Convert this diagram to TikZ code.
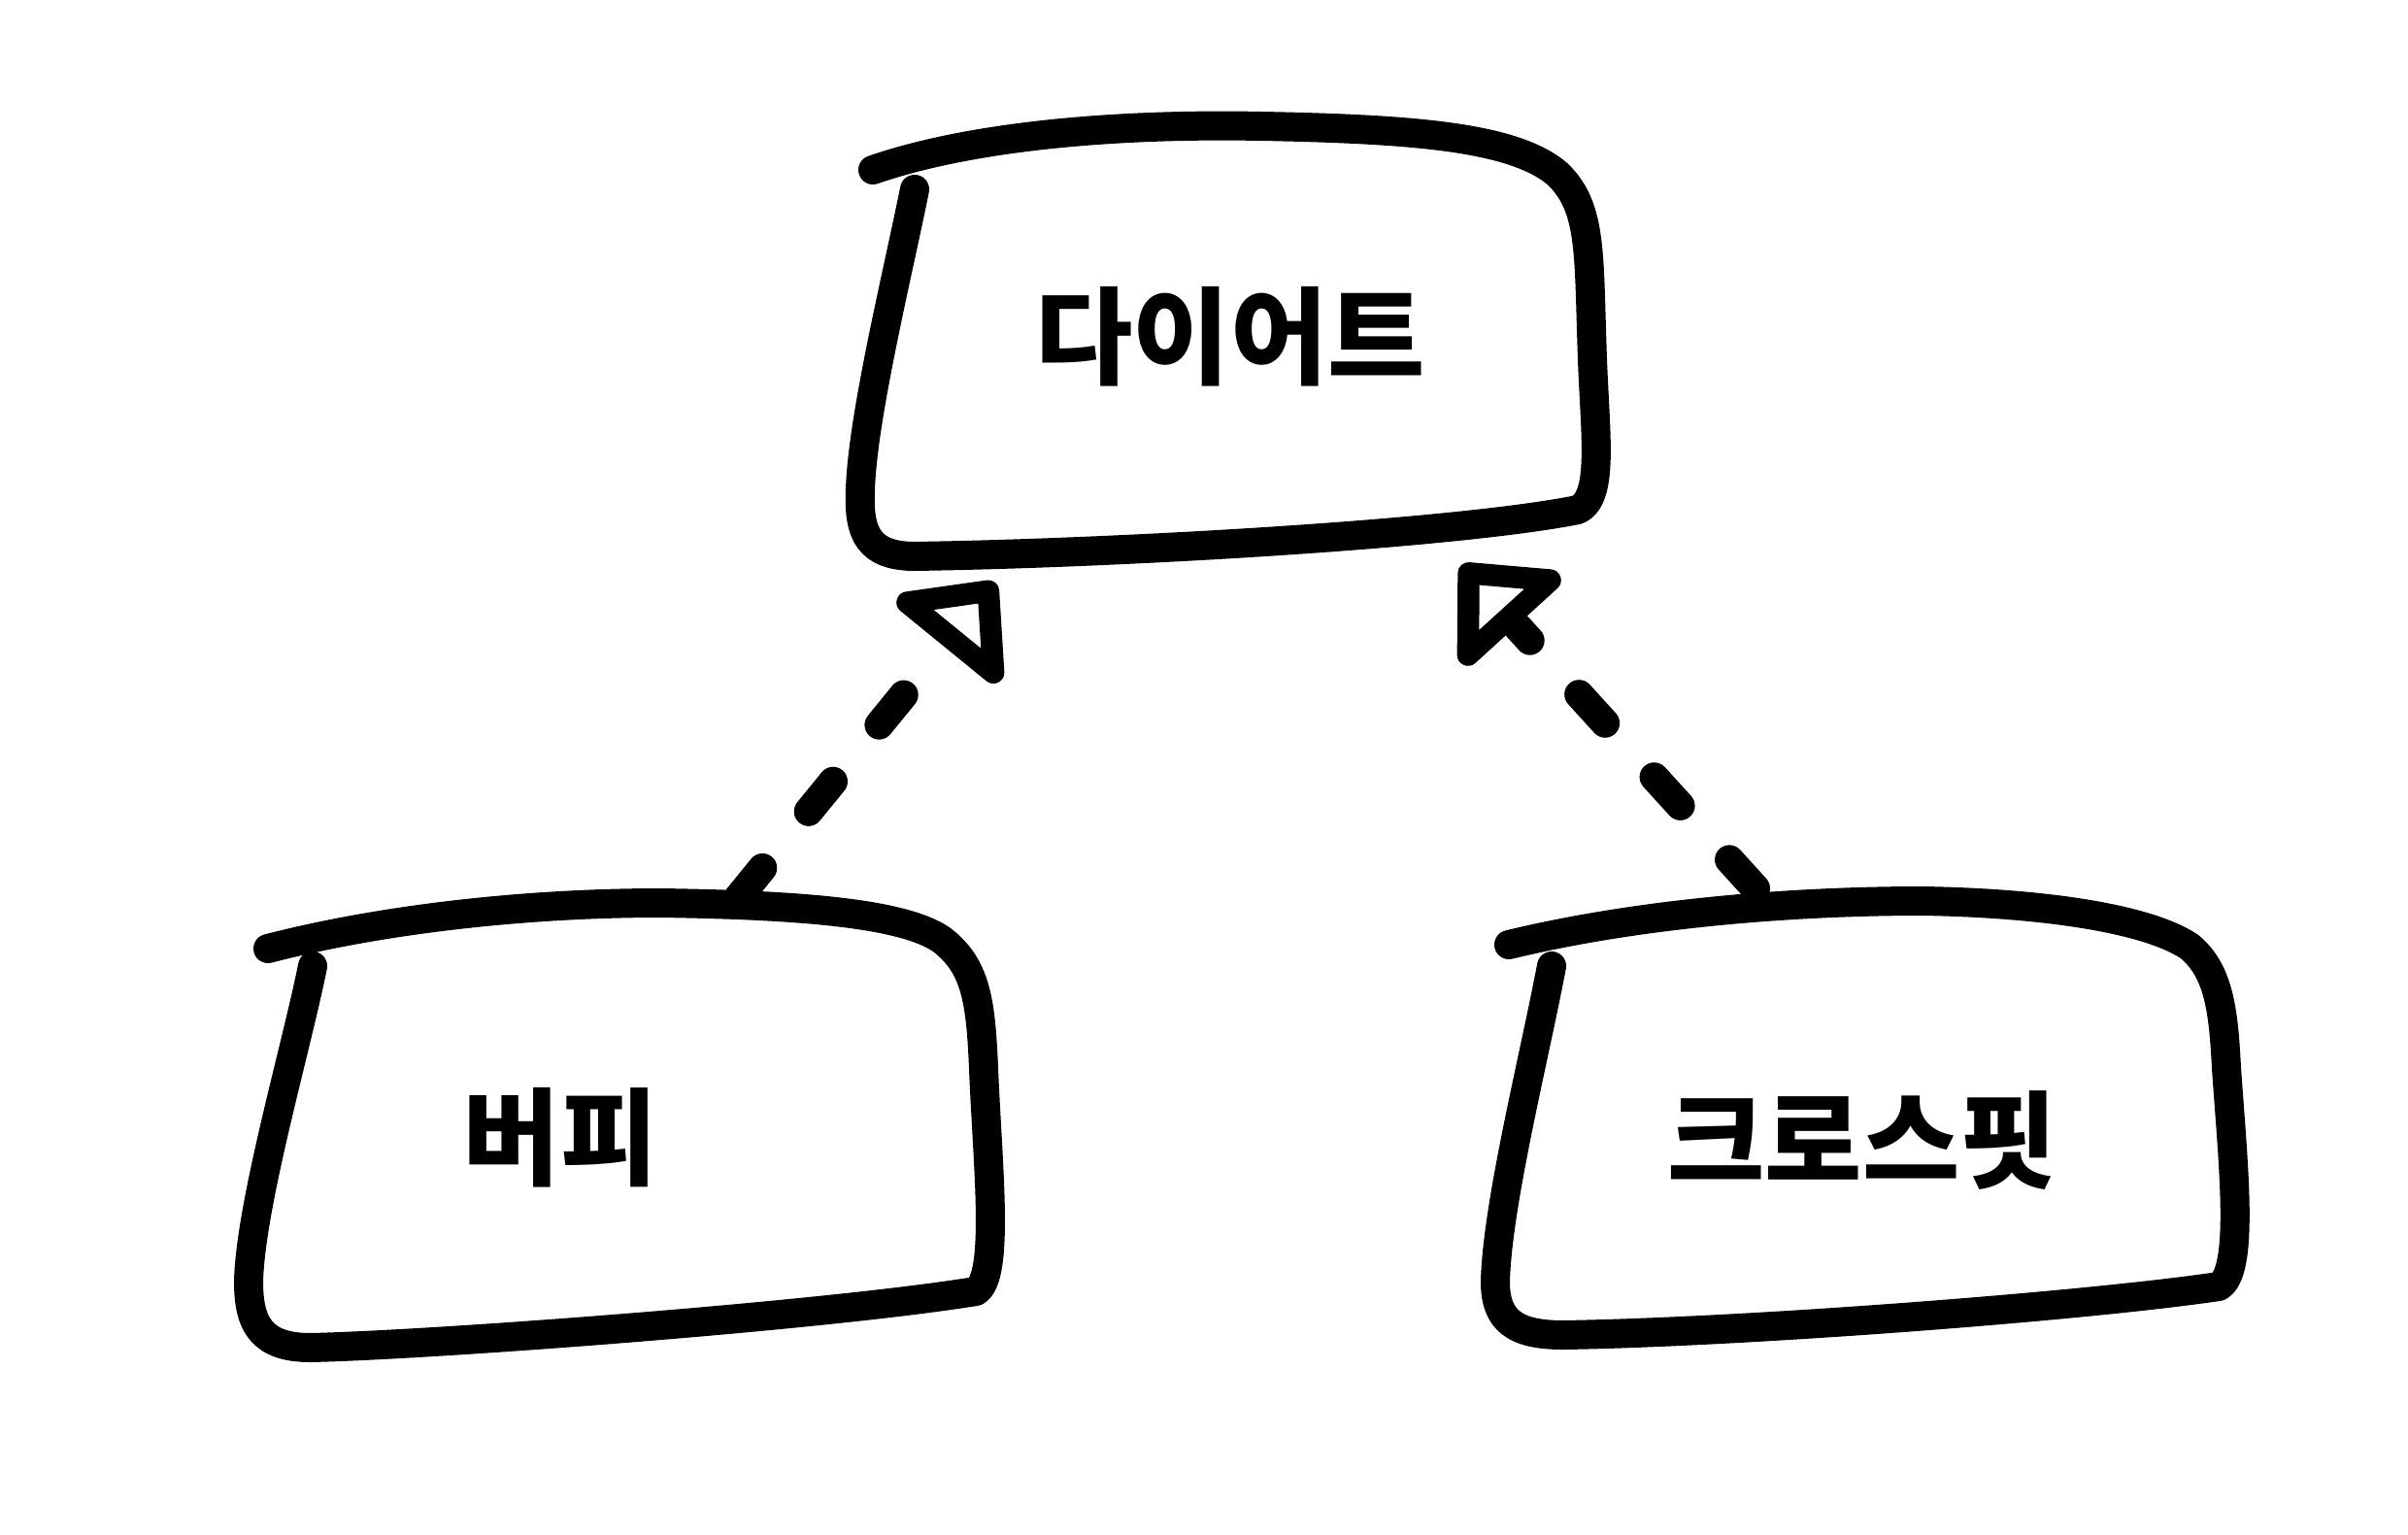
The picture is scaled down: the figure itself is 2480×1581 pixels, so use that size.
\documentclass[tikz,border=0pt]{standalone}
\usepackage{fontspec}
\newfontfamily\kofont{Noto Sans CJK KR}
\usetikzlibrary{arrows.meta}

\tikzset{
  sketch/.style={line width=0.3cm, line cap=round, line join=round},
  boxtext/.style={font=\kofont\bfseries\fontsize{31}{37}\selectfont},
  realizes/.style={sketch, dash pattern=on 0.4cm off 0.75cm,
    -{Triangle[open, round, length=0.9cm, width=1.6cm]}}
}

\begin{document}
\begin{tikzpicture}[x=0.01cm, y=-0.01cm]
\useasboundingbox (0,0) rectangle (2480,1581);

% Top box
\draw[sketch] (899,175) .. controls (1000,140) and (1150,127) .. (1300,130)
  .. controls (1450,133) and (1560,140) .. (1605,180)
  .. controls (1640,215) and (1636,260) .. (1640,370)
  .. controls (1643,450) and (1652,512) .. (1625,525)
  .. controls (1500,550) and (1150,570) .. (940,573)
  .. controls (895,572) and (884,550) .. (886,505)
  .. controls (888,430) and (925,280) .. (942,195);
\node[boxtext] (diet) at (1267,347) {다이어트};

% Bottom left box
\draw[sketch] (276,977) .. controls (400,945) and (550,930) .. (680,930)
  .. controls (820,932) and (930,940) .. (970,968)
  .. controls (1005,995) and (1010,1030) .. (1013,1100)
  .. controls (1017,1200) and (1030,1315) .. (1005,1330)
  .. controls (850,1355) and (450,1385) .. (320,1388)
  .. controls (270,1388) and (256,1365) .. (256,1320)
  .. controls (258,1240) and (305,1080) .. (322,995);
\node[boxtext] (burpee) at (577,1172) {버피};

% Bottom right box
\draw[sketch] (1554,973) .. controls (1690,940) and (1850,928) .. (1980,928)
  .. controls (2100,930) and (2210,945) .. (2255,975)
  .. controls (2285,1000) and (2290,1040) .. (2293,1100)
  .. controls (2300,1200) and (2312,1310) .. (2285,1325)
  .. controls (2150,1345) and (1800,1372) .. (1610,1375)
  .. controls (1560,1375) and (1540,1360) .. (1540,1320)
  .. controls (1542,1240) and (1580,1090) .. (1598,995);
\node[boxtext] (crossfit) at (1918,1175) {크로스핏};

% Connector ends
\coordinate (burpee-top) at (760,925);
\coordinate (crossfit-top) at (1808,915);
\coordinate (diet-left) at (1025,600);
\coordinate (diet-right) at (1505,582);

% Realization arrows
\draw[realizes] (burpee-top) -- (diet-left);
\draw[realizes] (crossfit-top) -- (diet-right);

\end{tikzpicture}
\end{document}
